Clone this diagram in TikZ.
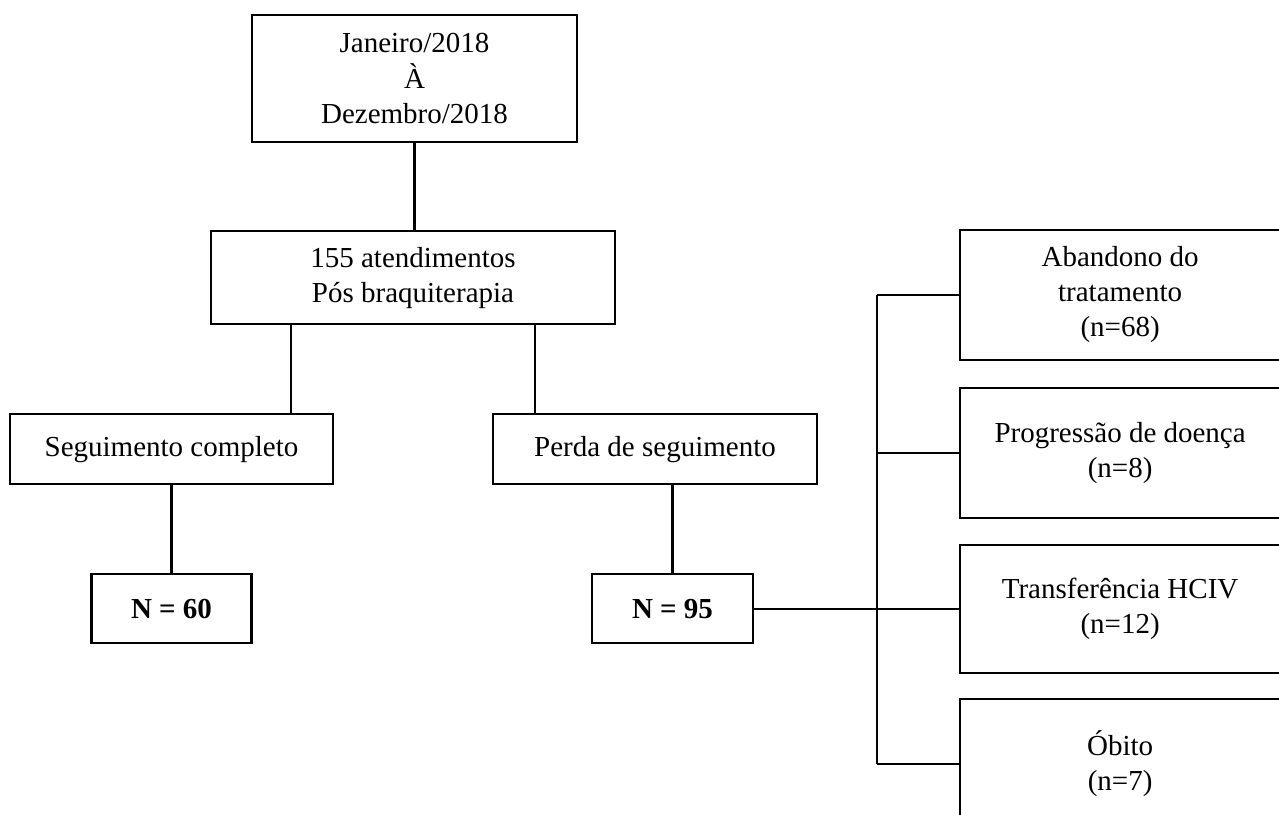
\documentclass[tikz,border=0pt]{standalone}
\usepackage{fontspec}
\setmainfont{Liberation Serif}
\usepackage{tikz}
\usetikzlibrary{positioning, calc}

\begin{document}
\begin{tikzpicture}[
  block/.style={rectangle, draw, inner sep=0pt, minimum width=6.4cm, minimum height=2.6cm, align=center, font=\fontsize{16.5}{20}\selectfont},
  line width=1.2pt
]
\useasboundingbox (0,0) rectangle (25.58,-16.28);
\clip (0,0) rectangle (25.58,-16.28);

\node[block, minimum width=6.5cm, minimum height=2.54cm] (periodo) at (8.29,-1.57) {Janeiro/2018\\À\\Dezembro/2018};
\node[block, minimum width=8.08cm, minimum height=1.86cm, below=1.74cm of periodo, xshift=-0.03cm] (atend) {155 atendimentos\\Pós braquiterapia};
\node[block, minimum width=6.46cm, minimum height=1.4cm, below=1.76cm of atend, xshift=-4.83cm] (seg) {Seguimento completo};
\node[block, minimum width=6.48cm, minimum height=1.4cm, below=1.76cm of atend, xshift=4.84cm] (perda) {Perda de seguimento};
\node[block, minimum width=3.2cm, minimum height=1.38cm, below=1.76cm of seg] (n60) {\textbf{N = 60}};
\node[block, minimum width=3.22cm, minimum height=1.38cm, below=1.76cm of perda, xshift=0.35cm] (n95) {\textbf{N = 95}};
\node[block, minimum height=2.56cm, right=4.1cm of n95] (transf) {Transferência HCIV\\(n=12)};
\node[block, above=0.5cm of transf] (progressao) {Progressão de doença\\(n=8)};
\node[block, above=0.52cm of progressao] (abandono) {Abandono do\\tratamento\\(n=68)};
\node[block, below=0.48cm of transf] (obito) {Óbito\\(n=7)};

\coordinate (lft) at ($(atend.south west)!0.2!(atend.south east)$);
\coordinate (rgt) at ($(atend.south west)!0.8!(atend.south east)$);
\coordinate[right=2.46cm of n95.east] (bus);

\draw (periodo) -- (periodo |- atend.north);
\draw (lft) -- (lft |- seg.north);
\draw (rgt) -- (rgt |- perda.north);
\draw (seg) -- (n60);
\draw (n95.north |- perda.south) -- (n95);
\draw (n95) -- (transf);
\draw (bus |- abandono.west) -- (bus |- obito.west);
\foreach \b in {abandono, progressao, obito}
  \draw (bus |- \b.west) -- (\b.west);
\end{tikzpicture}
\end{document}
